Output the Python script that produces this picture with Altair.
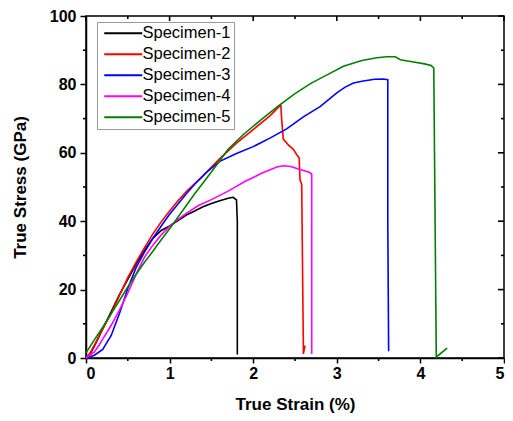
import altair as alt
import pandas as pd

specimens = ["Specimen-1", "Specimen-2", "Specimen-3", "Specimen-4", "Specimen-5"]
colors = ["#000000", "#FF0000", "#0000FF", "#FF00FF", "#008000"]

s1_x = [0, 0.05, 0.1, 0.2, 0.3, 0.4, 0.5, 0.6, 0.7, 0.8, 0.9, 1.0, 1.1, 1.2, 1.3, 1.4, 1.5, 1.6, 1.7, 1.76, 1.8, 1.81, 1.81]
s1_y = [0, 1.2, 3.5, 8.5, 13.5, 18.5, 23, 27.5, 31.5, 35, 37.3, 38.6, 40.2, 41.8, 43.0, 44.2, 45.2, 46.0, 46.7, 47.0, 46.2, 40, 1]

s2_x = [0, 0.05, 0.1, 0.2, 0.3, 0.4, 0.5, 0.6, 0.7, 0.8, 0.9, 1.0, 1.1, 1.2, 1.4, 1.6, 1.8, 2.0, 2.2, 2.33, 2.34, 2.36, 2.42, 2.48, 2.52, 2.55, 2.56, 2.58, 2.6, 2.6, 2.62]
s2_y = [0, 1.5, 3.8, 8.5, 13, 18.3, 23.5, 28, 32.3, 36.3, 39.8, 43, 46, 48.7, 53.3, 58.3, 62.8, 66.8, 70.8, 74, 70, 64, 62.3, 61, 59.5, 58.5, 52, 50.8, 3, 1.2, 3.6]

s3_x = [0, 0.1, 0.2, 0.3, 0.4, 0.5, 0.6, 0.7, 0.8, 0.9, 1.0, 1.1, 1.2, 1.3, 1.45, 1.6, 1.8, 2.0, 2.2, 2.4, 2.6, 2.8, 3.0, 3.1, 3.2, 3.3, 3.45, 3.55, 3.61, 3.61, 3.62]
s3_y = [0, 0.8, 2.5, 6.5, 13, 20.3, 26.5, 31, 35, 38.6, 42, 45, 48, 50.8, 54.5, 57.5, 59.8, 61.8, 64.3, 67, 70.5, 73.5, 77.5, 79.2, 80.4, 80.9, 81.5, 81.6, 81.4, 40, 2]

s4_x = [0, 0.1, 0.15, 0.2, 0.3, 0.4, 0.5, 0.6, 0.7, 0.8, 0.9, 1.0, 1.1, 1.2, 1.34, 1.5, 1.7, 1.9, 2.1, 2.29, 2.37, 2.45, 2.55, 2.67, 2.70, 2.70, 2.70]
s4_y = [0, 1.8, 3.5, 5.5, 9.5, 14, 19, 24.5, 29.5, 33, 36, 38.5, 40.5, 42.3, 44.5, 46.3, 48.8, 51.6, 54, 55.9, 56.2, 56, 55.2, 54.3, 53.8, 30, 1.2]

s5_x = [0, 0.1, 0.2, 0.3, 0.4, 0.5, 0.6, 0.7, 0.8, 0.9, 1.0, 1.1, 1.2, 1.3, 1.42, 1.58, 1.7, 1.89, 2.1, 2.29, 2.5, 2.69, 2.9, 3.08, 3.3, 3.48, 3.6, 3.7, 3.76, 3.9, 4.05, 4.13, 4.16, 4.19, 4.32]
s5_y = [1.5, 5.3, 9, 12.9, 16.8, 20.8, 24.5, 28, 31.2, 34.6, 37.8, 41.2, 44.6, 48, 51.8, 57, 61, 65.5, 69.8, 73.5, 77.3, 80.3, 83, 85.3, 87, 87.8, 88.1, 88.1, 87.2, 86.6, 86, 85.5, 84.8, 0.3, 2.9]

x_major = [0, 1, 2, 3, 4, 5]
x_minor = [0.5, 1.5, 2.5, 3.5, 4.5]
y_major = [0, 20, 40, 60, 80, 100]
y_minor = [10, 30, 50, 70, 90]

W, H = 418, 342
X0, X1, Y0, Y1 = 0, 5, 0, 100
FONT = "Liberation Sans"

series = [(s1_x, s1_y), (s2_x, s2_y), (s3_x, s3_y), (s4_x, s4_y), (s5_x, s5_y)]
rows = []
for name, (xs, ys) in zip(specimens, series):
    for i, (a, b) in enumerate(zip(xs, ys)):
        rows.append({"strain": a, "stress": b, "specimen": name, "seg": name, "idx": i})

# mirror (inward) ticks on top/right and minor ticks on bottom/left, drawn as short
# two-point segments at the tick values (lengths are a styling constant in pixels)
ux = (X1 - X0) / W   # data units per pixel along x
uy = (Y1 - Y0) / H   # data units per pixel along y


def add_seg(key, p0, p1):
    rows.append({"strain": p0[0], "stress": p0[1], "specimen": "tick", "seg": key, "idx": 0})
    rows.append({"strain": p1[0], "stress": p1[1], "specimen": "tick", "seg": key, "idx": 1})


for v in x_major:
    add_seg(f"top{v}", (v, Y1), (v, Y1 - 5 * uy))
for v in x_minor:
    add_seg(f"topm{v}", (v, Y1), (v, Y1 - 3 * uy))
    add_seg(f"botm{v}", (v, Y0), (v, Y0 - 3 * uy))
for v in y_major:
    add_seg(f"right{v}", (X1, v), (X1 - 6 * ux, v))
for v in y_minor:
    add_seg(f"rightm{v}", (X1, v), (X1 - 3 * ux, v))
    add_seg(f"leftm{v}", (X0, v), (X0 - 3 * ux, v))

df = pd.DataFrame(rows)

x_scale = alt.Scale(domain=[X0, X1], nice=False, zero=False)
y_scale = alt.Scale(domain=[Y0, Y1], nice=False, zero=False)

common = dict(tickColor="black", tickWidth=1.5, domainColor="black", domainWidth=1.5, grid=False)

x_axis = alt.Axis(
    orient="bottom", values=x_major, format="d", title="True Strain (%)", tickSize=5,
    labelFont=FONT, labelFontSize=16, labelFontWeight="bold", labelColor="black", labelPadding=2,
    titleFont=FONT, titleFontSize=17, titleFontWeight="bold", titleColor="black", titlePadding=15,
    **common,
)
y_axis = alt.Axis(
    orient="left", values=y_major, format="d", title="True Stress (GPa)", tickSize=6,
    labelFont=FONT, labelFontSize=16, labelFontWeight="bold", labelColor="black", labelPadding=4,
    titleFont=FONT, titleFontSize=17, titleFontWeight="bold", titleColor="black", titlePadding=20,
    **common,
)

chart = alt.Chart(df).mark_line(strokeWidth=1.6).encode(
    x=alt.X("strain:Q", scale=x_scale, axis=x_axis),
    y=alt.Y("stress:Q", scale=y_scale, axis=y_axis),
    color=alt.Color(
        "specimen:N",
        scale=alt.Scale(domain=specimens + ["tick"], range=colors + ["#000000"]),
        legend=alt.Legend(
            values=specimens,
            title=None, orient="none", legendX=11, legendY=6,
            symbolType="M-7.6,0H7.6", symbolSize=25, symbolStrokeWidth=2,
            symbolOffset=15, labelOffset=11,
            labelFont=FONT, labelFontSize=16.5, labelColor="black",
            rowPadding=4, padding=3,
            strokeColor="#999999", fillColor="white",
        ),
    ),
    detail=alt.Detail("seg:N"),
    order=alt.Order("idx:Q"),
).properties(
    width=W, height=H,
    background="white",
    autosize=alt.AutoSizeParams(type="none"),
    padding={"left": 78, "top": 8, "right": 1, "bottom": 55},
).configure_view(stroke="black", strokeWidth=1.5)

chart.save("out.html", embed_options={"renderer": "svg", "actions": False})
